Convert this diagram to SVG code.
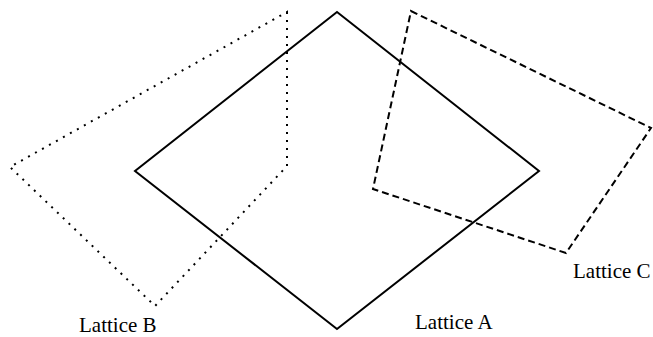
<svg xmlns="http://www.w3.org/2000/svg" width="653" height="337" viewBox="0 0 653 337">
<style>
.lat{fill:none;stroke:#000;stroke-width:2;stroke-linejoin:miter}
.dot{stroke-dasharray:2 6}
.dash{stroke-dasharray:7 4}
.lbl{font-family:"Liberation Serif","Times New Roman",serif;font-size:21px;fill:#000}
</style>
<rect width="653" height="337" fill="#fff"/>
<g id="latticeB">
<polygon class="lat dot" points="287,12 287,166 155,306 10,167"/>
<text class="lbl" x="79" y="332">Lattice B</text>
</g>
<g id="latticeA">
<polygon class="lat" points="337,12 539,171 337,329 135,171"/>
<text class="lbl" x="415" y="329">Lattice A</text>
</g>
<g id="latticeC">
<polygon class="lat dash" points="411,11 651,128 566,253 373,189"/>
<text class="lbl" x="573" y="278">Lattice C</text>
</g>
<g id="connectors"/>
</svg>
